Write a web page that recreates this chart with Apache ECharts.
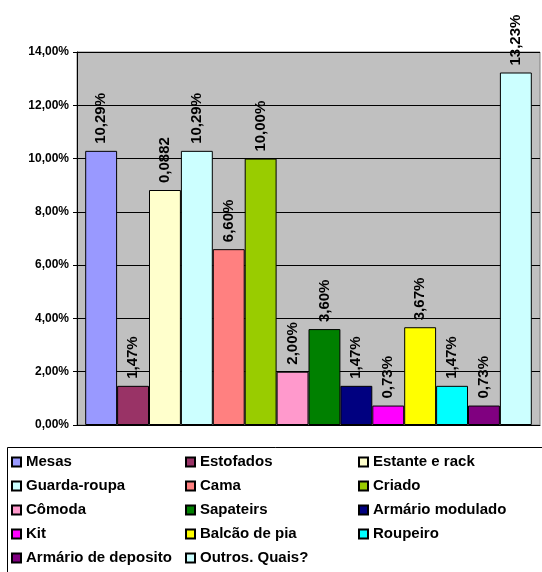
<!DOCTYPE html>
<html><head><meta charset="utf-8">
<script src="https://cdn.jsdelivr.net/npm/echarts@6/dist/echarts.min.js"></script>
<style>html,body{margin:0;padding:0;background:#fff}#c{width:542px;height:572px}</style>
</head><body><div id="c"></div>
<script>
var names = ['Mesas','Estofados','Estante e rack','Guarda-roupa','Cama','Criado','Cômoda','Sapateirs','Armário modulado','Kit','Balcão de pia','Roupeiro','Armário de deposito','Outros. Quais?'];
var values = [10.29, 1.47, 8.82, 10.29, 6.60, 10.00, 2.00, 3.60, 1.47, 0.73, 3.67, 1.47, 0.73, 13.23];
var labels = ['10,29%','1,47%','0,0882','10,29%','6,60%','10,00%','2,00%','3,60%','1,47%','0,73%','3,67%','1,47%','0,73%','13,23%'];
var colors = ['#9999FF','#993366','#FFFFCC','#CCFFFF','#FF8080','#99CC00','#FF99CC','#008000','#000080','#FF00FF','#FFFF00','#00FFFF','#800080','#CCFFFF'];
var yTicks = {min: 0, max: 14, interval: 2};
var legendCols = [
  ['Mesas','Guarda-roupa','Cômoda','Kit','Armário de deposito'],
  ['Estofados','Cama','Sapateirs','Balcão de pia','Outros. Quais?'],
  ['Estante e rack','Criado','Armário modulado','Roupeiro']
];

var FONT = 'Liberation Sans, Arial, sans-serif';
var chart = echarts.init(document.getElementById('c'), null, {renderer: 'canvas'});
var series = names.map(function(n, i){
  return {
    name: n, type: 'bar', data: [values[i]],
    barWidth: 31.9, barGap: '0%',
    itemStyle: {color: colors[i], borderColor: '#000', borderWidth: 1},
    label: {
      show: true, position: 'top', rotate: 90, distance: 7,
      align: 'left', verticalAlign: 'middle',
      formatter: function(){ return labels[i]; },
      fontFamily: FONT, fontWeight: 'bold', fontSize: 15, color: '#000'
    },
    emphasis: {disabled: true},
    animation: false
  };
});
var legendX = [11, 185, 358];
var legends = legendCols.map(function(col, k){
  return {
    data: col, orient: 'vertical', left: legendX[k], top: 454.5,
    padding: 0, itemGap: 9, itemWidth: 9, itemHeight: 9, itemTextGap: 7,
    icon: 'rect', selectedMode: false,
    textStyle: {fontFamily: FONT, fontWeight: 'bold', fontSize: 15, color: '#000', lineHeight: 15}
  };
});
chart.setOption({
  animation: false,
  backgroundColor: '#fff',
  grid: {left: 77, right: 2, top: 52, bottom: 147, show: true, backgroundColor: '#C0C0C0', borderColor: '#808080', borderWidth: 1},
  xAxis: {type: 'category', data: [''], axisLabel: {show: false}, axisTick: {show: false},
    axisLine: {show: true, lineStyle: {color: '#000', width: 1}}},
  yAxis: {type: 'value', min: yTicks.min, max: yTicks.max, interval: yTicks.interval,
    axisLine: {show: true, lineStyle: {color: '#000', width: 1}},
    axisTick: {show: true, length: 4, lineStyle: {color: '#000'}},
    splitLine: {show: true, lineStyle: {color: '#000', width: 1}},
    axisLabel: {margin: 8, fontFamily: FONT, fontWeight: 'bold', fontSize: 12, color: '#000',
      formatter: function(v){ return v.toFixed(2).replace('.', ',') + '%'; }}},
  legend: legends,
  graphic: [{type: 'rect', shape: {x: 7.5, y: 447.5, width: 600, height: 200}, style: {fill: 'none', stroke: '#000', lineWidth: 1}, silent: true}],
  series: series
});
</script></body></html>
